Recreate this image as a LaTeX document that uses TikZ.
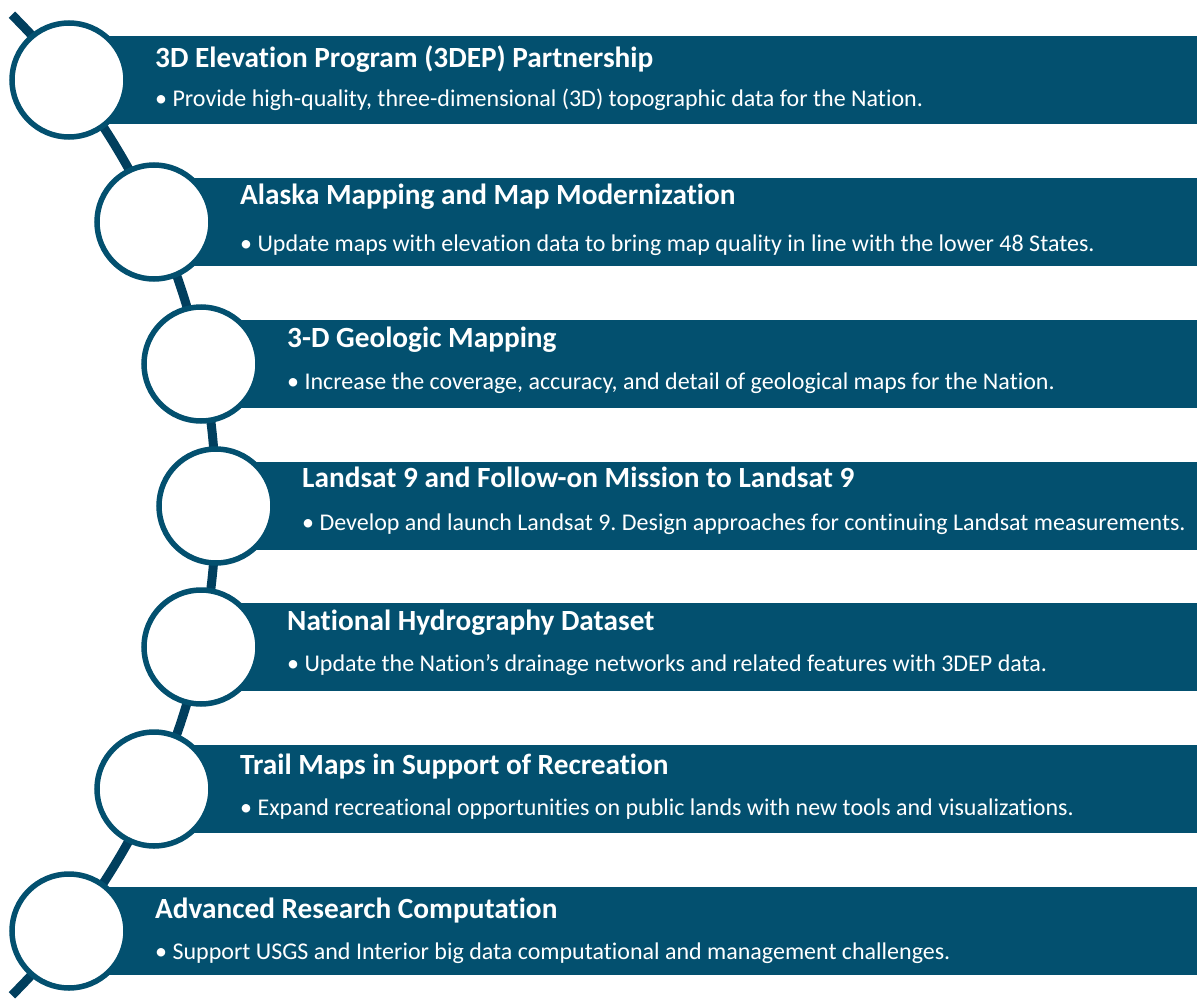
\documentclass[tikz,border=0pt]{standalone}
\usepackage{fontspec}
\setmainfont[Ligatures=NoCommon]{Carlito}
\frenchspacing
\definecolor{barblue}{HTML}{03506F}
\definecolor{spineblue}{HTML}{013F5E}
\begin{document}
\begin{tikzpicture}[x=1pt,y=-1pt,
  bar/.style={fill=barblue, draw=none, inner sep=0pt, anchor=north west, minimum height=88pt},
  ring/.style={circle, draw=barblue, line width=5.5pt, fill=white, minimum size=114pt, inner sep=0pt},
  title/.style={anchor=base west, inner sep=0pt, text=white, font=\fontsize{29.3}{33}\selectfont\bfseries},
  body/.style={anchor=base west, inner sep=0pt, text=white, font=\fontsize{24}{28}\selectfont},
  spine/.style={draw=spineblue, line width=9pt}
]
\useasboundingbox (0,0) rectangle (1197,1001);
% spine arc
\draw[spine] (-475,505) ++(-45.2:691) arc[start angle=-45.2, end angle=45.2, radius=691];
% items
\foreach \i/\cx/\T/\tb/\bb/\ti/\bo in {
  1/69/36/67/106/{3D Elevation Program (3DEP) Partnership}/{• Provide high-quality, three-dimensional (3D) topographic data for the Nation.},
  2/154/178/204/251/{Alaska Mapping and Map Modernization}/{• Update maps with elevation data to bring map quality in line with the lower 48 States.},
  3/201/320/347/389/{3-D Geologic Mapping}/{• Increase the coverage, accuracy, and detail of geological maps for the Nation.},
  4/216/462/487/530/{Landsat 9 and Follow-on Mission to Landsat 9}/{• Develop and launch Landsat 9. Design approaches for continuing Landsat measurements.},
  5/201/603/630/671/{National Hydrography Dataset}/{• Update the Nation’s drainage networks and related features with 3DEP data.},
  6/154/745/774/815/{Trail Maps in Support of Recreation}/{• Expand recreational opportunities on public lands with new tools and visualizations.},
  7/69/887/918/959/{Advanced Research Computation}/{• Support USGS and Interior big data computational and management challenges.}} {
  \pgfmathsetmacro{\w}{1197-\cx}
  \node[bar, minimum width=\w pt] (bar\i) at (\cx,\T) {};
  \node[ring] (c\i) at (\cx,\T+44) {};
  \node[title] (t\i) at (\cx+86,\tb) {\ti};
  \node[body] (d\i) at (\cx+86,\bb) {\bo};
}
\end{tikzpicture}
\end{document}
